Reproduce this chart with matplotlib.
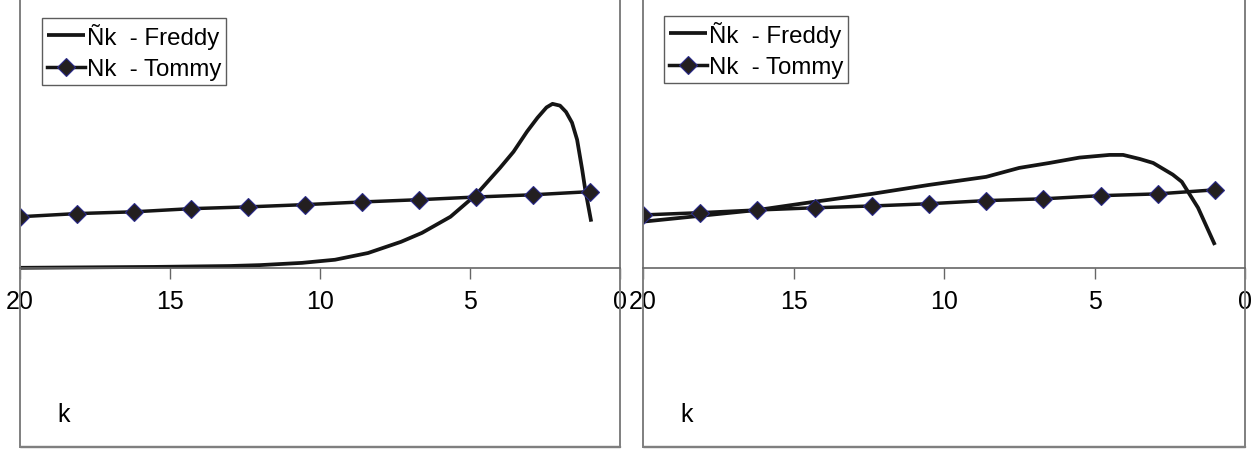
import matplotlib
matplotlib.use("Agg")
import matplotlib.pyplot as plt
from matplotlib.patches import Rectangle

plt.rcParams['font.family'] = ['Liberation Sans', 'DejaVu Sans']

# ---- data ----
tommy_k = [20, 18.1, 16.2, 14.3, 12.4, 10.5, 8.6, 6.7, 4.8, 2.9, 1.0]
tommy_left = [0.114, 0.121, 0.125, 0.132, 0.136, 0.141, 0.147, 0.152, 0.158, 0.163, 0.170]
tommy_right = [0.118, 0.123, 0.129, 0.134, 0.138, 0.143, 0.150, 0.154, 0.161, 0.165, 0.174]

freddy_left_k = [20, 15.5, 13.0, 12.0, 10.6, 9.5, 8.4, 7.3, 6.6, 5.65, 4.8, 4.0,
                 3.55, 3.1, 2.75, 2.45, 2.25, 2.0, 1.8, 1.6, 1.43, 1.26, 1.16, 0.96]
freddy_left = [0.0, 0.002, 0.004, 0.006, 0.011, 0.018, 0.033, 0.058, 0.078, 0.114,
               0.163, 0.223, 0.259, 0.304, 0.335, 0.358, 0.366, 0.362, 0.348, 0.324,
               0.286, 0.219, 0.175, 0.103]

freddy_right_k = [20, 18.1, 16.2, 14.35, 12.4, 10.5, 8.6, 7.5, 6.5, 5.5, 4.5, 4.05,
                  3.5, 3.05, 2.4, 2.1, 1.83, 1.56, 1.0]
freddy_right = [0.103, 0.116, 0.129, 0.147, 0.165, 0.185, 0.203, 0.223, 0.234, 0.246,
                0.252, 0.252, 0.243, 0.234, 0.208, 0.192, 0.163, 0.134, 0.051]

xticks = [20, 15, 10, 5, 0]
xlabel_text = "k"
label_freddy = "Ñk  - Freddy"
label_tommy = "Nk  - Tommy"

W, H = 1260, 452
fig = plt.figure(figsize=(W / 100, H / 100), dpi=100)

panels = [
    (20, 620, freddy_left_k, freddy_left, tommy_left, (0.037, 0.958)),
    (643, 1245, freddy_right_k, freddy_right, tommy_right, (0.035, 0.962)),
]

FS = 18
LFS = 17.3
frame_col = '#7f7f7f'
for (x0, x1, fk, fv, tv, leg_pos) in panels:
    ax = fig.add_axes([x0 / W, 4 / H, (x1 - x0) / W, 448 / H])
    ax.set_xlim(20, 0)
    ax.set_ylim(-0.4, 0.6)
    ax.plot(fk, fv, color='#151515', lw=2.7, label=label_freddy,
            solid_joinstyle='round', solid_capstyle='butt')
    ax.plot(tommy_k, tv, color='#151515', lw=2.5, marker='D', markersize=9,
            markerfacecolor='#231f20', markeredgecolor='#2a2a8a', markeredgewidth=0.8,
            label=label_tommy)
    for s in ['left', 'right', 'top']:
        ax.spines[s].set_color(frame_col)
        ax.spines[s].set_linewidth(1.4)
    ax.spines['bottom'].set_position(('data', 0))
    ax.spines['bottom'].set_color('#666666')
    ax.spines['bottom'].set_linewidth(1.2)
    ax.add_patch(Rectangle((0, 0), 1, 0.002, transform=ax.transAxes,
                           facecolor=frame_col, edgecolor=frame_col, lw=1.0, clip_on=False))
    ax.set_yticks([])
    ax.set_xticks(xticks)
    ax.set_xticklabels([str(t) for t in xticks])
    ax.tick_params(axis='x', direction='out', length=8, width=1.0, color='#666666',
                   labelsize=FS, pad=7, labelcolor='black')
    ax.text(0.062, 0.074, xlabel_text, transform=ax.transAxes, fontsize=FS,
            ha='left', va='center')
    leg = ax.legend(loc='upper left', bbox_to_anchor=leg_pos, borderaxespad=0,
                    fontsize=LFS, frameon=True, fancybox=False, handlelength=1.6,
                    handletextpad=0.06, borderpad=0.2, labelspacing=0.4)
    leg.get_frame().set_edgecolor('#333333')
    leg.get_frame().set_linewidth(1.0)

fig.savefig('out.png', dpi=100)
